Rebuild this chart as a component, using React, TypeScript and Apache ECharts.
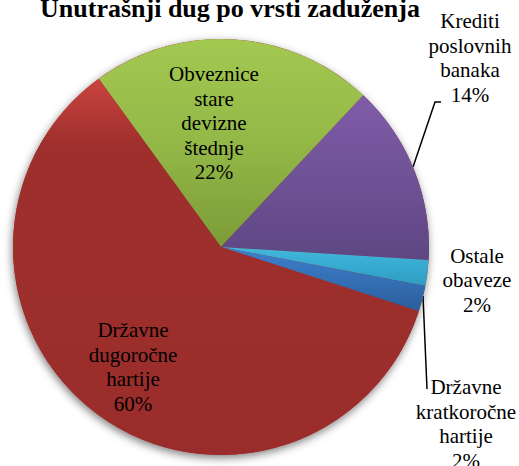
import React, { useEffect, useRef } from "react";
import * as echarts from "echarts";

const titleText = "Unutrašnji dug po vrsti zaduženja";
const categories = [
  "Obveznice\nstare\ndevizne\nštednje",
  "Krediti\nposlovnih\nbanaka",
  "Ostale\nobaveze",
  "Državne\nkratkoročne\nhartije",
  "Državne\ndugoročne\nhartije",
];
const values = [22, 14, 2, 2, 60];
const percentLabels = ["22%", "14%", "2%", "2%", "60%"];

const gradients: [string, string, string][] = [
  ["#A3C951", "#93B847", "#7C9B38"],
  ["#7F5CA8", "#6F5296", "#5E4683"],
  ["#42B8DB", "#37AACF", "#2E9CC0"],
  ["#3E82CE", "#356FB5", "#2B5E9C"],
  ["#C9433F", "#9E2F2C", "#9A2D2B"],
];

const labelPos: { x: number; y: number }[] = [
  { x: 214, y: 123 },
  { x: 470, y: 58 },
  { x: 477, y: 280 },
  { x: 466, y: 424 },
  { x: 133, y: 367 },
];
const linePoints: (number[][] | null)[] = [
  null,
  [[413, 167], [435, 102], [441, 102]],
  null,
  [[423, 296], [427, 389], [427, 389]],
  null,
];

const serif = "'Liberation Serif', 'Times New Roman', serif";

export default function App() {
  const ref = useRef<HTMLDivElement>(null);
  useEffect(() => {
    if (!ref.current) return;
    const chart = echarts.init(ref.current, null, { renderer: "svg" });
    const data = values.map((v, i) => ({
      name: categories[i],
      value: v,
      itemStyle: {
        color: new echarts.graphic.LinearGradient(0, 0, 0, 1, [
          { offset: 0, color: gradients[i][0] },
          { offset: i === 4 ? 0.18 : 0.5, color: gradients[i][1] },
          { offset: 1, color: gradients[i][2] },
        ]),
      },
      labelLine: { show: !!linePoints[i] },
    }));
    chart.setOption({
      animation: false,
      title: {
        text: titleText,
        left: 225,
        textAlign: "center",
        top: -10,
        textStyle: {
          fontFamily: serif,
          fontWeight: "bold",
          fontSize: 26,
          color: "#000",
        },
      },
      series: [
        {
          type: "pie",
          silent: true,
          center: [221, 247],
          radius: 208,
          label: { show: false },
          labelLine: { show: false },
          itemStyle: {
            color: "#9B2E2C",
            shadowBlur: 8,
            shadowOffsetX: -1,
            shadowOffsetY: 3,
            shadowColor: "rgba(0,0,0,0.5)",
          },
          data: [{ value: 1, name: "" }],
        },
        {
          type: "pie",
          center: [221, 247],
          radius: 208,
          startAngle: 126,
          clockwise: true,
          avoidLabelOverlap: false,
          label: {
            show: true,
            position: "outside",
            formatter: (p: any) => `${categories[p.dataIndex]}\n${percentLabels[p.dataIndex]}`,
            fontFamily: serif,
            fontSize: 21,
            lineHeight: 24.5,
            color: "#000",
            align: "center",
          },
          labelLine: {
            show: true,
            lineStyle: { color: "#000", width: 1.5 },
          },
          labelLayout: (params: any) => {
            const i = params.dataIndex;
            const p = labelPos[i];
            const res: any = {
              x: p.x,
              y: p.y,
              align: "center",
              verticalAlign: "middle",
            };
            if (linePoints[i]) res.labelLinePoints = linePoints[i];
            return res;
          },
          data,
        },
      ],
    });
    return () => chart.dispose();
  }, []);
  return (
    <div
      ref={ref}
      style={{ position: "fixed", left: 0, top: 0, width: 519, height: 466, background: "#fff" }}
    />
  );
}
